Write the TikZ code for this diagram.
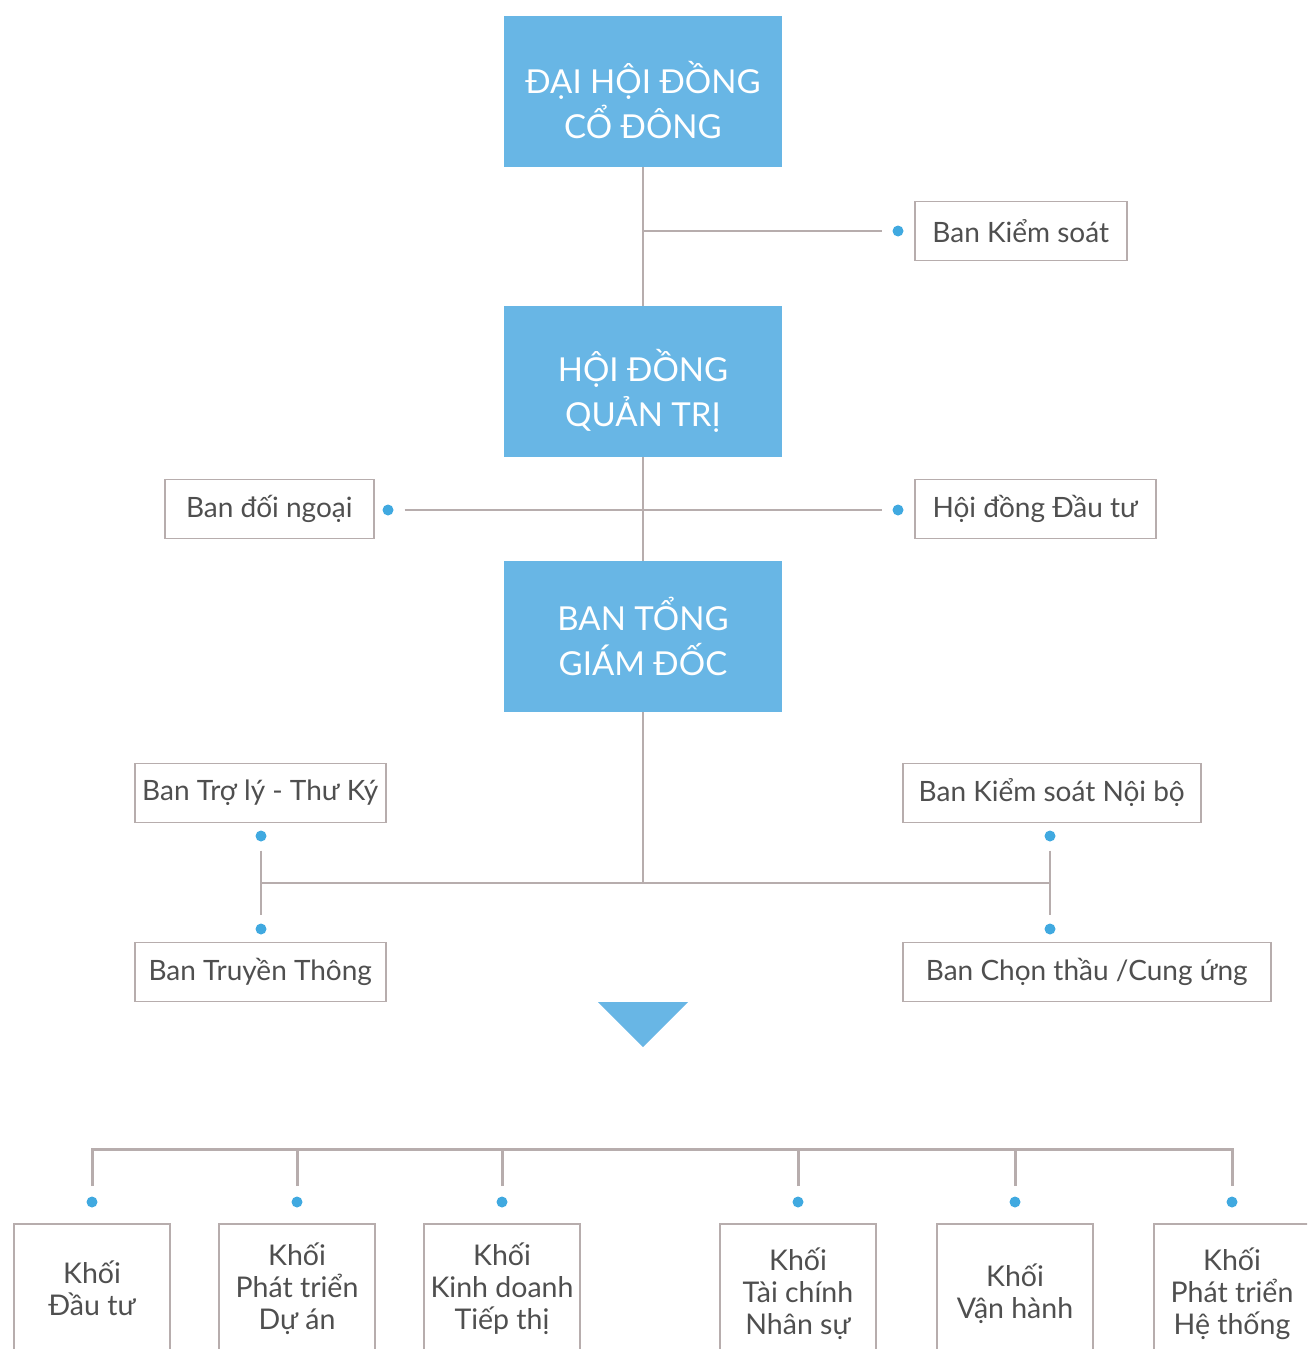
\documentclass[tikz,border=0pt]{standalone}
\usepackage{fontspec}
\setmainfont{Lato}
\usetikzlibrary{positioning}
\definecolor{boxblue}{HTML}{68B6E5}
\definecolor{dotblue}{HTML}{40A9E0}
\definecolor{linegray}{HTML}{B7ADAD}
\definecolor{textgray}{HTML}{4F4F4F}

\begin{document}
\begin{tikzpicture}[x=1pt,y=-1pt,
    head/.style={fill=boxblue,minimum width=278pt,minimum height=151pt},
    headtext/.style={text=white,align=center,font=\fontsize{33}{45}\selectfont},
    unit/.style={draw=linegray,line width=1.5pt,text=textgray,minimum height=59pt,
      anchor=west,font=\fontsize{28}{32}\selectfont},
    block/.style={draw=linegray,line width=1.5pt,text=textgray,minimum width=156pt,
      align=center,anchor=north,font=\fontsize{28.5}{32}\selectfont},
    bullet/.style={circle,fill=dotblue,inner sep=0pt,minimum size=11pt},
    link/.style={draw=linegray,line width=1.5pt},
    bar/.style={draw=linegray,line width=3pt}]

      \useasboundingbox (0,0) rectangle (1307,1349);
      \clip (0,0) rectangle (1307,1349);

      % main boxes
      \node[head] (dhd)  at (643,91.5)  {};
      \node[head] (hdqt) at (643,381.5) {};
      \node[head] (btgd) at (643,636.5) {};
      \node[headtext] (dhdt)  at ([yshift=-9pt]dhd)  {ĐẠI HỘI ĐỒNG\\CỔ ĐÔNG};
      \node[headtext] (hdqtt) at ([yshift=-9pt]hdqt) {HỘI ĐỒNG\\QUẢN TRỊ};
      \node[headtext] (btgdt) at (btgd)              {BAN TỔNG\\GIÁM ĐỐC};

      % side units
      \node[unit,minimum width=212pt] (ks)   at (914,231) {Ban Kiểm soát};
      \node[unit,minimum width=209pt] (dn)   at (164,509) {Ban đối ngoại};
      \node[unit,minimum width=241pt] (hddt) at (914,509) {Hội đồng Đầu tư};
      \node[unit,minimum width=251pt] (tl)   at (134,793) {Ban Trợ lý - Thư Ký};
      \node[unit,minimum width=251pt] (tt)   at (134,972) {Ban Truyền Thông};
      \node[unit,minimum width=298pt] (ksnb) at (902,793) {Ban Kiểm soát Nội bộ};
      \node[unit,minimum width=368pt] (ct)   at (902,972) {Ban Chọn thầu /Cung ứng};

      \node[bullet] (dks)   at (898,231)  {};
      \node[bullet] (ddn)   at (388,510)  {};
      \node[bullet] (dhddt) at (898,510)  {};
      \node[bullet] (dtl)   at (261,836)  {};
      \node[bullet] (dtt)   at (261,929)  {};
      \node[bullet] (dksnb) at (1050,836) {};
      \node[bullet] (dct)   at (1050,929) {};

      \draw[link] (dhd) -- (hdqt);
      \draw[link,shorten >=10pt] (dhd.south |- dks) -- (dks);
      \draw[link] (hdqt) -- (btgd);
      \draw[link,shorten <=11pt,shorten >=10pt] (ddn) -- (dhddt);

      \coordinate (j) at (643,883);
      \draw[link] (btgd) -- (j);
      \draw[link] (j -| dtl) -- (j -| dksnb);
      \draw[link,shorten <=9pt,shorten >=8pt] (dtl) -- (dtt);
      \draw[link,shorten <=9pt,shorten >=8pt] (dksnb) -- (dct);

      \fill[boxblue] (598,1002) -- (688,1002) -- (643,1047) -- cycle;

      % blocks
      \foreach \n/\x/\h/\t in {1/92/130/{Khối\\Đầu tư},
                               2/297/130/{Khối\\Phát triển\\Dự án},
                               3/502/130/{Khối\\Kinh doanh\\Tiếp thị},
                               4/798/140/{Khối\\Tài chính\\Nhân sự},
                               5/1015/140/{Khối\\Vận hành},
                               6/1232/140/{Khối\\Phát triển\\Hệ thống}}{
        \node[block,minimum height=\h pt] (k\n) at (\x,1223) {\t};
        \node[bullet] (d\n) at (\x,1202) {};
      }

      \draw[bar] ([yshift=16pt]d1.center) -- ++(0,-37) -| ([yshift=16pt]d6.center);
      \foreach \n in {2,...,5}
        \draw[bar] ([yshift=16pt]d\n.center) -- ++(0,-37);
\end{tikzpicture}
\end{document}
